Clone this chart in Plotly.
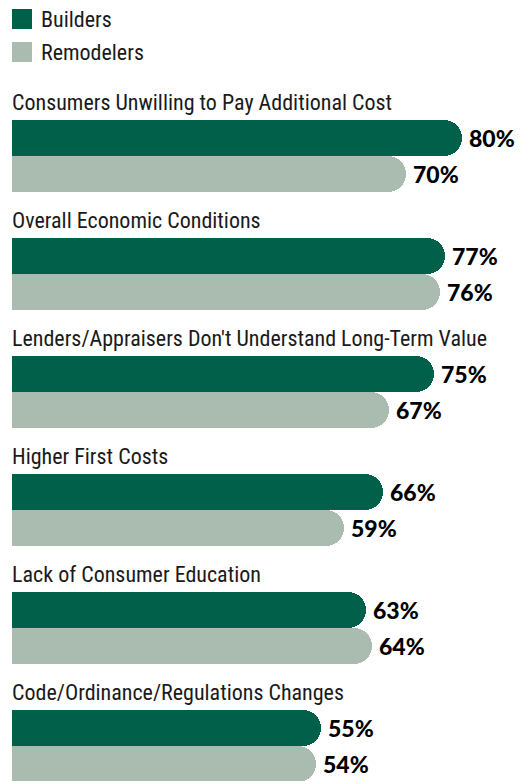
import plotly.graph_objects as go

categories = [
    "Consumers Unwilling to Pay Additional Cost",
    "Overall Economic Conditions",
    "Lenders/Appraisers Don't Understand Long-Term Value",
    "Higher First Costs",
    "Lack of Consumer Education",
    "Code/Ordinance/Regulations Changes",
]
builders = [80, 77, 75, 66, 63, 55]
remodelers = [70, 76, 67, 59, 64, 54]
series_names = ["Builders", "Remodelers"]

C_B = "#00604A"
C_R = "#AABCB0"
W, H = 526, 781
LEFT = 12
PX_PER_PCT = 5.625
BAR_H = 36
FIRST_TOP = 120
PITCH = 118

cond_font = "Liberation Sans Narrow, Roboto Condensed, Arial Narrow, sans-serif"
bold_font = "Lato, Roboto, sans-serif"

yb = [FIRST_TOP + i * PITCH + BAR_H / 2 for i in range(len(categories))]
yr = [y + BAR_H for y in yb]

fig = go.Figure()
fig.add_trace(go.Bar(x=builders, y=yb, orientation="h", width=BAR_H,
                     marker=dict(color=C_B, cornerradius=BAR_H / 2, line=dict(width=0)),
                     name=series_names[0], showlegend=False, hoverinfo="skip"))
fig.add_trace(go.Bar(x=remodelers, y=yr, orientation="h", width=BAR_H,
                     marker=dict(color=C_R, cornerradius=BAR_H / 2, line=dict(width=0)),
                     name=series_names[1], showlegend=False, hoverinfo="skip"))

ann = []
for i, cat in enumerate(categories):
    ann.append(dict(x=0, y=yb[i] - BAR_H / 2 - 18, xref="x", yref="y", text=cat,
                    showarrow=False, xanchor="left", yanchor="middle", xshift=-2,
                    font=dict(family=cond_font, size=22, color="#1a1a1a")))
    for val, yy in ((builders[i], yb[i]), (remodelers[i], yr[i])):
        ann.append(dict(x=val, y=yy, xref="x", yref="y", text=f"{val}%",
                        showarrow=False, xanchor="left", yanchor="middle", xshift=5,
                        font=dict(family=bold_font, size=23, color="#000", weight=900)))

# legend
shapes = []
for j, (nm, col) in enumerate(zip(series_names, [C_B, C_R])):
    top = 9 + j * 33
    shapes.append(dict(type="rect", xref="paper", yref="y", x0=0, x1=20 / (W - LEFT),
                       y0=top, y1=top + 20, fillcolor=col, line=dict(width=0)))
    ann.append(dict(x=27 / (W - LEFT), y=top + 10, xref="paper", yref="y", text=nm,
                    showarrow=False, xanchor="left", yanchor="middle",
                    font=dict(family=cond_font, size=22, color="#1a1a1a")))

fig.update_layout(
    width=W, height=H, margin=dict(l=LEFT, r=0, t=0, b=0),
    paper_bgcolor="white", plot_bgcolor="white",
    barmode="overlay", bargap=0,
    xaxis=dict(range=[0, (W - LEFT) / PX_PER_PCT], visible=False, fixedrange=True),
    yaxis=dict(range=[H, 0], visible=False, fixedrange=True),
    annotations=ann, shapes=shapes,
)
fig.write_html("out.html", post_script="document.body.style.margin='0';document.body.style.overflow='hidden';",
               config={"displayModeBar": False})
